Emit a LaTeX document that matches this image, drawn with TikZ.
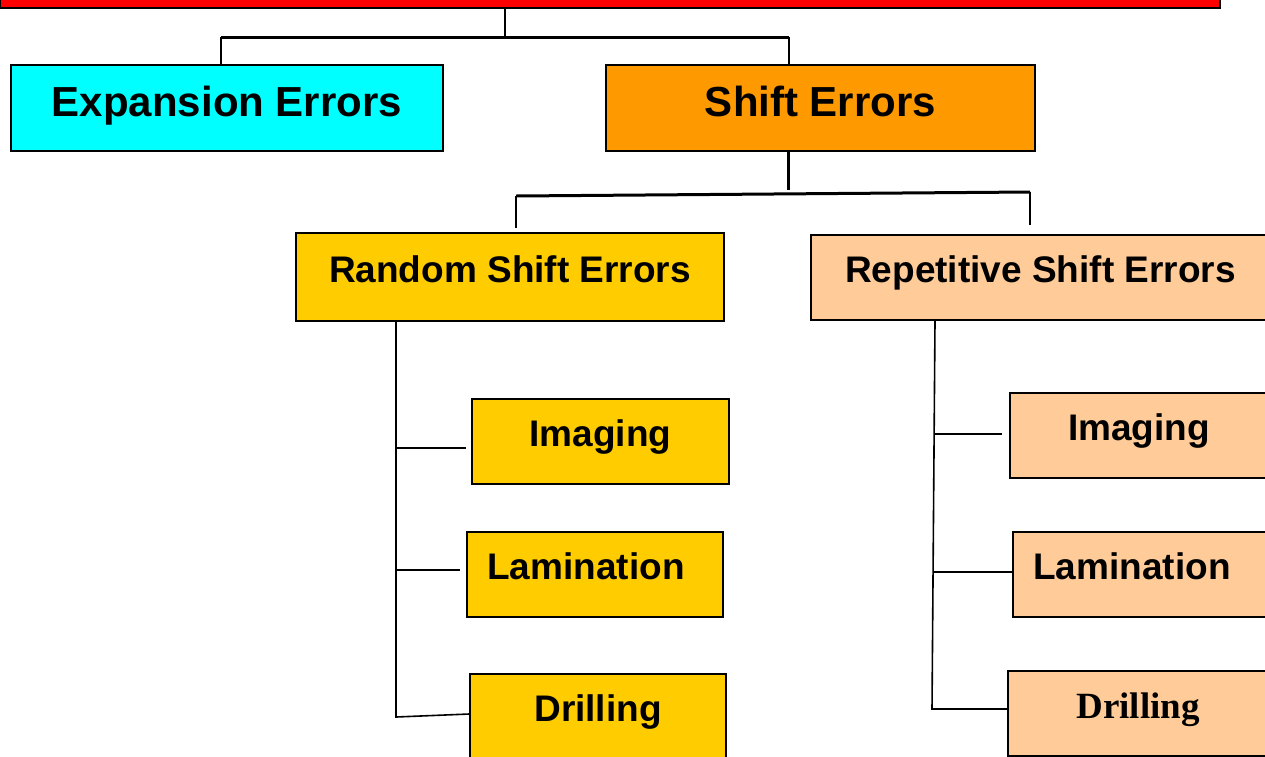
\documentclass[tikz,border=0pt]{standalone}
\usepackage{fontspec}
\setmainfont{Liberation Sans}
\newfontfamily\serifbf{Liberation Serif}
\usetikzlibrary{calc}

\definecolor{topred}{HTML}{FF0000}
\definecolor{expcyan}{HTML}{00FFFF}
\definecolor{shiftorange}{HTML}{FF9900}
\definecolor{randgold}{HTML}{FFCC00}
\definecolor{reppeach}{HTML}{FFCC99}

\begin{document}
\begin{tikzpicture}[x=1pt,y=-1pt,
  errbox/.style={draw=black,line width=1.4pt,inner sep=0pt,minimum height=85pt,
    text height=27.75pt,text depth=17.75pt,font=\bfseries\fontsize{37}{44}\selectfont},
  bigbox/.style={errbox,minimum height=86pt,text height=31.5pt,text depth=15.5pt,
    font=\bfseries\fontsize{42}{50}\selectfont},
  link/.style={line width=1.6pt},
  bar/.style={line width=3pt}]
  \useasboundingbox (0,0) rectangle (1265,756);
  \clip (0,0) rectangle (1265,756);

  \node[errbox,fill=topred,minimum width=1220pt,minimum height=80pt](top)at(610,-32){};
  \node[bigbox,fill=expcyan,minimum width=432pt](exp)at(227,108){Expansion Errors};
  \node[bigbox,fill=shiftorange,minimum width=429pt](shift)at(820.5,108){Shift Errors};

  \node[errbox,fill=randgold,minimum width=428pt,minimum height=88pt](rand)at(510,277){Random Shift Errors};
  \node[errbox,fill=reppeach,minimum width=459pt](rep)at(1040.5,277.5){Repetitive Shift Errors};

  \node[errbox,fill=randgold,minimum width=257pt](imgL)at(600.5,441.5){Imaging};
  \node[errbox,fill=randgold,minimum width=256pt](lamL)at(595,574.5){Lamination\kern18pt};
  \node[errbox,fill=randgold,minimum width=256pt](drlL)at(598,716.5){Drilling};

  \node[errbox,fill=reppeach,minimum width=258pt](imgR)at(1139,435.5){Imaging};
  \node[errbox,fill=reppeach,minimum width=256pt](lamR)at(1141,574.5){Lamination\kern18pt};
  \node[errbox,fill=reppeach,minimum width=260pt,font=\serifbf\bfseries\fontsize{37}{44}\selectfont](drlR)at(1138,713.5){Drilling};

  \coordinate (topj) at (505,37);
  \coordinate (jexp) at (221,37);
  \coordinate (jshift) at (789,37);
  \draw[link] (top.south -| topj) -- (topj);
  \draw[bar] (jexp) -- (jshift);
  \draw[link] (jexp) -- (jexp |- exp.north);
  \draw[link] (jshift) -- (jshift |- shift.north);

  \coordinate (sj) at (788,190);
  \coordinate (jrand) at (516,196);
  \coordinate (jrep) at (1030,192);
  \coordinate (erand) at (516,228);
  \coordinate (erep) at (1030,225);
  \draw[bar] (shift.south -| sj) -- (sj);
  \draw[bar] (jrand) -- (jrep);
  \draw[link] (jrand) -- (erand);
  \draw[link] (jrep) -- (erep);

  \coordinate (lt) at (396,717);
  \coordinate (li) at (466,448);
  \coordinate (ll) at (460,570);
  \draw[link] (rand.south -| lt) -- (lt) -- (drlL.west |- 0,714);
  \draw[link] (li -| lt) -- (li);
  \draw[link] (ll -| lt) -- (ll);

  \coordinate (rt) at (932,709);
  \coordinate (ri) at (1002,434);
  \draw[link] (rep.south -| 935,0) -- (rt) -- (drlR.west |- rt);
  \draw[link] (934.3,434) -- (ri);
  \draw[link] (933,572) -- (lamR.west |- 0,572);
\end{tikzpicture}
\end{document}
